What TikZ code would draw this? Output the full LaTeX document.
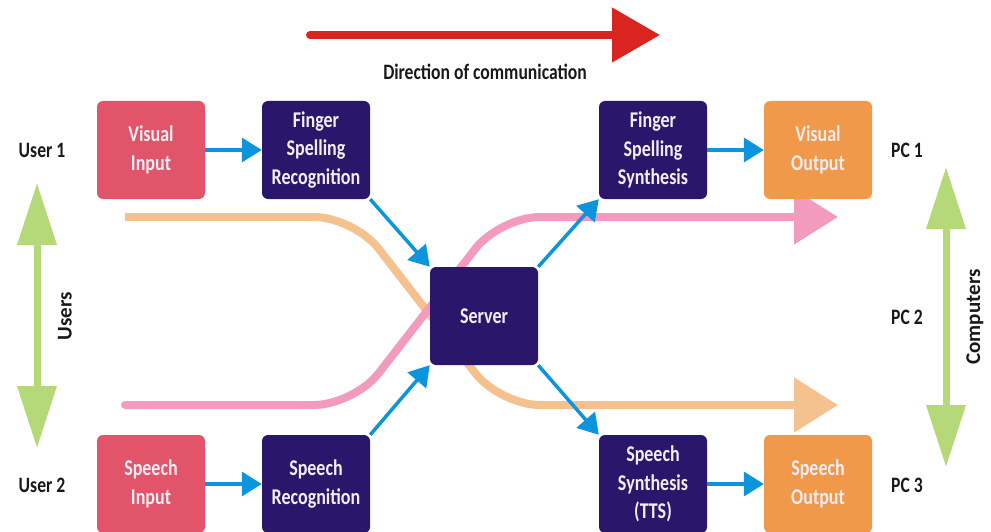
\documentclass[tikz,border=0pt]{standalone}
\usepackage{fontspec}
\setmainfont{Carlito}[FakeStretch=0.8]
\newfontfamily\ancho{Carlito}
\usetikzlibrary{arrows.meta}

\definecolor{rojoentrada}{HTML}{E15469}
\definecolor{azuloscuro}{HTML}{2A176C}
\definecolor{naranjasalida}{HTML}{F0994A}
\definecolor{azulflecha}{HTML}{0C95DD}
\definecolor{verdeflecha}{HTML}{B5D979}
\definecolor{rosaflujo}{HTML}{F29BBF}
\definecolor{naranjaflujo}{HTML}{F5C18E}
\definecolor{rojodireccion}{HTML}{DA2420}
\definecolor{textocaja}{HTML}{F4EDF4}

\begin{document}
\begin{tikzpicture}[x=1pt, y=-1pt,
    bloque/.style={rounded corners=6pt, minimum width=108pt, minimum height=98pt,
        inner sep=0pt, align=center, text=textocaja,
        font=\bfseries\fontsize{22.5}{28.5}\selectfont},
    etiqueta/.style={text=black!90, font=\bfseries\fontsize{22}{26}\selectfont},
    flechaazul/.style={line width=3.5pt, azulflecha, -{Triangle[length=20pt,width=24pt]}},
    flechaverde/.style={line width=7pt, verdeflecha,
        {Triangle[length=62pt,width=38pt]}-{Triangle[length=62pt,width=38pt]}},
    flujo/.style={line width=8pt, rounded corners=40pt, -{Triangle[length=44pt,width=53pt]}}]
    \useasboundingbox (0,0) rectangle (991,532);

    % Flecha de la direccion de comunicacion
    \coordinate (dirA) at (310,35);
    \coordinate (dirB) at (660,35);
    \draw[line width=8pt, rojodireccion, line cap=round,
        -{Triangle[length=48pt,width=53pt]}] (dirA) -- (dirB);
    \node[etiqueta, font=\bfseries\fontsize{22}{26}\selectfont] (direccion) at (485,72)
        {Direction of communication};

    % Flujos que se cruzan detras del servidor
    \coordinate (naranjaA) at (125,217);
    \coordinate (naranjaB) at (838,405);
    \coordinate (rosaA) at (125,405);
    \coordinate (rosaB) at (838,217);
    \draw[flujo, naranjaflujo] (naranjaA) -- (354,217) -- (500,405) -- (naranjaB);
    \draw[flujo, rosaflujo, line cap=round] (rosaA) -- (354,405) -- (500,217) -- (rosaB);

    % Bloques
    \node[bloque, fill=rojoentrada] (vin) at (151,150) {Visual\\Input};
    \node[bloque, fill=azuloscuro] (fsr) at (316,150) {Finger\\Spelling\\Recognition};
    \node[bloque, fill=rojoentrada] (sin) at (151,484) {Speech\\Input};
    \node[bloque, fill=azuloscuro] (srec) at (316,484) {Speech\\Recognition};
    \node[bloque, fill=azuloscuro] (server) at (484,316) {Server};
    \node[bloque, fill=azuloscuro] (fss) at (653,150) {Finger\\Spelling\\Synthesis};
    \node[bloque, fill=naranjasalida] (vout) at (818,150) {Visual\\Output};
    \node[bloque, fill=azuloscuro] (ssyn) at (653,484) {Speech\\Synthesis\\(TTS)};
    \node[bloque, fill=naranjasalida] (sout) at (818,484) {Speech\\Output};

    % Conexiones
    \draw[flechaazul] (vin) -- (fsr);
    \draw[flechaazul] (sin) -- (srec);
    \draw[flechaazul] (fsr.south east) -- (server.north west);
    \draw[flechaazul] (srec.north east) -- (server.south west);
    \draw[flechaazul] (server.north east) -- (fss.south west);
    \draw[flechaazul] (server.south east) -- (ssyn.north west);
    \draw[flechaazul] (fss) -- (vout);
    \draw[flechaazul] (ssyn) -- (sout);

    % Usuarios y computadoras
    \node[etiqueta] (user1) at (42,150) {User 1};
    \node[etiqueta] (user2) at (42,485) {User 2};
    \node[etiqueta] (pc1) at (907,150) {PC 1};
    \node[etiqueta] (pc2) at (907,317) {PC 2};
    \node[etiqueta] (pc3) at (907,485) {PC 3};
    \coordinate (usrA) at (37,183);
    \coordinate (usrB) at (37,448);
    \coordinate (pcA) at (946,167);
    \coordinate (pcB) at (946,467);
    \draw[flechaverde] (usrA) -- (usrB);
    \draw[flechaverde] (pcA) -- (pcB);
    \node[etiqueta, font=\ancho\bfseries\fontsize{21}{25}\selectfont, rotate=90] (users) at (65,316) {Users};
    \node[etiqueta, font=\ancho\bfseries\fontsize{21}{25}\selectfont, rotate=90] (computers) at (975,317) {Computers};
\end{tikzpicture}
\end{document}
